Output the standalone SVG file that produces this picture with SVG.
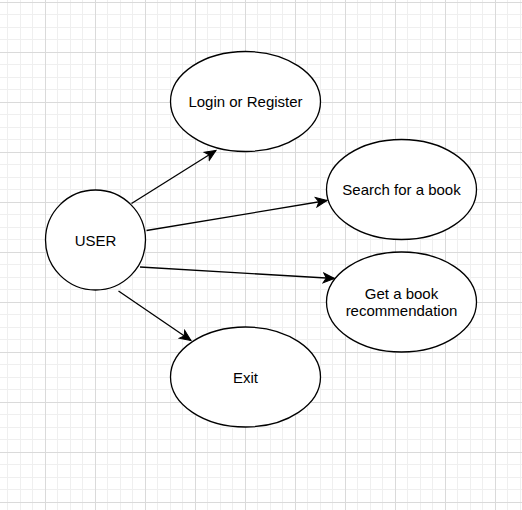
<svg xmlns="http://www.w3.org/2000/svg" width="522" height="510" viewBox="0 0 522 510">
<style>
.node ellipse{fill:#ffffff;stroke:#000000;stroke-width:1.3}
.node text{font-family:"Liberation Sans",Arial,Helvetica,sans-serif;font-size:15px;fill:#000000;text-anchor:middle}
.edge{stroke:#000000;stroke-width:1.3;fill:none;marker-end:url(#arrow)}
</style>
<defs>
<pattern id="grid" x="45" y="2" width="50" height="50" patternUnits="userSpaceOnUse">
<path d="M12.5 0V50M25.5 0V50M37.5 0V50M0 12.5H50M0 25.5H50M0 37.5H50" stroke="#efefef" stroke-width="1" fill="none"/>
<path d="M0.5 0V50M0 0.5H50" stroke="#dadada" stroke-width="1" fill="none"/>
</pattern>
<marker id="arrow" markerUnits="userSpaceOnUse" markerWidth="14" markerHeight="12" viewBox="0 0 14 12" refX="12" refY="6" orient="auto">
<path d="M1 1.2L12 6L1 10.8L3.8 6Z" fill="#000000" stroke="#000000" stroke-width="1"/>
</marker>
</defs>
<rect width="522" height="510" fill="#ffffff"/>
<rect width="522" height="510" fill="url(#grid)"/>
<g id="connectors">
<line class="edge" x1="131.5" y1="203.5" x2="216" y2="150.5"/>
<line class="edge" x1="146.5" y1="230.5" x2="327" y2="200.5"/>
<line class="edge" x1="140" y1="267" x2="334.5" y2="278.5"/>
<line class="edge" x1="118.5" y1="291" x2="191" y2="340.5"/>
</g>
<g id="user" class="node">
<ellipse cx="95.5" cy="240" rx="50" ry="50"/>
<text x="95.5" y="245.5">USER</text>
</g>
<g id="login" class="node">
<ellipse cx="245.5" cy="101.5" rx="75" ry="50"/>
<text x="245.5" y="107">Login or Register</text>
</g>
<g id="search" class="node">
<ellipse cx="401.5" cy="189.5" rx="75" ry="50"/>
<text x="401.5" y="195">Search for a book</text>
</g>
<g id="recommend" class="node">
<ellipse cx="401.5" cy="302" rx="75" ry="50"/>
<text x="401.5" y="298.5">Get a book</text>
<text x="401.5" y="316">recommendation</text>
</g>
<g id="exit" class="node">
<ellipse cx="245.5" cy="377" rx="75" ry="50"/>
<text x="245.5" y="382.5">Exit</text>
</g>
</svg>
